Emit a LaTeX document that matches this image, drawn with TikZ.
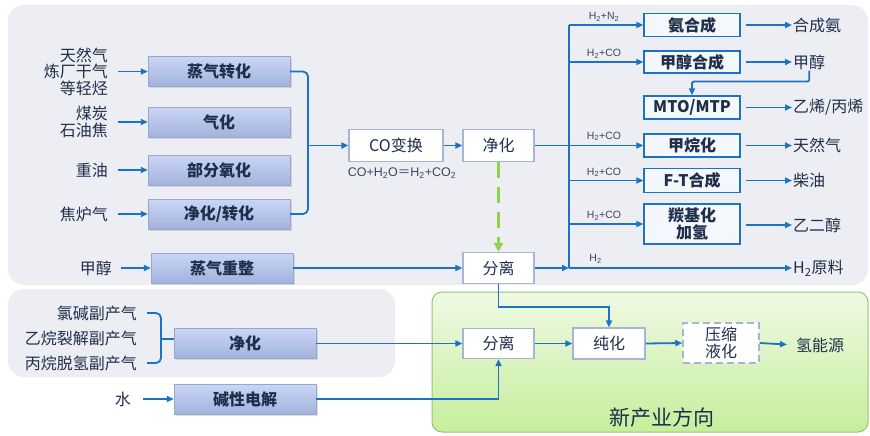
\documentclass[tikz,border=0pt]{standalone}
\usepackage{fontspec}
\setmainfont{Noto Sans CJK SC}
\newfontfamily\latf{Liberation Sans}
\usetikzlibrary{arrows.meta,shadows,calc}
\definecolor{bgray}{HTML}{EDEEF3}
\definecolor{lblue}{HTML}{1B72C6}
\definecolor{btop}{HTML}{CAD6F7}
\definecolor{bbot}{HTML}{A2B2DC}
\definecolor{bbrd}{HTML}{98A8CC}
\definecolor{txt}{HTML}{1F2E4A}
\definecolor{wbrd}{HTML}{A6B5D6}
\definecolor{rfill}{HTML}{F4F7FB}
\definecolor{gtop}{HTML}{EFF9E4}
\definecolor{gbot}{HTML}{C6EE9C}
\definecolor{gbrd}{HTML}{94C66A}
\definecolor{gdash}{HTML}{92D050}
\definecolor{smtxt}{HTML}{3A4660}
\newcommand\myss[1]{\textsubscript{#1}}
\begin{document}
\begin{tikzpicture}[x=1pt,y=-1pt,
  srcbox/.style={draw=bbrd, top color=btop, bottom color=bbot, minimum width=142pt, minimum height=30pt, inner sep=0pt,
     font=\fontsize{16}{18}\selectfont\bfseries, text=txt,
     drop shadow={opacity=0.25,shadow xshift=1.5pt,shadow yshift=-1.5pt}},
  wbox/.style={draw=wbrd, line width=1.2pt, fill=white, inner sep=0pt, font=\fontsize{16}{16.5}\selectfont, text=txt, align=center},
  rbox/.style={draw=lblue, line width=1.3pt, fill=rfill, minimum width=96pt, minimum height=23pt, inner sep=0pt,
     font=\fontsize{16}{17}\selectfont\bfseries, text=txt, align=center},
  lbl/.style={anchor=east, align=right, inner sep=0pt, font=\fontsize{16}{16.5}\selectfont, text=txt},
  outl/.style={anchor=west, inner sep=1pt, font=\fontsize{16}{17}\selectfont, text=txt},
  sm/.style={inner sep=0pt, font=\latf\fontsize{10.5}{12}\selectfont, text=smtxt},
  line/.style={draw=lblue, line width=1.8pt},
  arr/.style={line, -{Triangle[length=7pt,width=6pt]}}
]
\useasboundingbox (0,0) rectangle (870,436);
% backgrounds
\fill[bgray, rounded corners=16pt] (8,5) rectangle (868,285);
\fill[bgray, rounded corners=16pt] (8,289) rectangle (395,377);
\path[draw=gbrd, line width=1pt, top color=gtop, bottom color=gbot, rounded corners=10pt] (432,292) rectangle (868,432);
\node[font=\fontsize{21}{24}\selectfont, text=txt] (np) at (662,418) {新产业方向};

% left source boxes
\node[srcbox] (s1) at (219,71.5) {蒸气转化};
\node[srcbox] (s2) at (219,122) {气化};
\node[srcbox] (s3) at (219,170) {部分氧化};
\node[srcbox] (s4) at (219,214) {净化/转化};
\node[srcbox] (ref) at (222,268) {蒸气重整};
\node[srcbox] (pur2) at (245,343.5) {净化};
\node[srcbox] (elec) at (245,399) {碱性电解};

% input labels
\node[lbl] (l1) at (108,71.5) {天然气\\炼厂干气\\等轻烃};
\node[lbl] (l2) at (108,122) {煤炭\\石油焦};
\node[lbl] (l3) at (108,170) {重油};
\node[lbl] (l4) at (108,214) {焦炉气};
\node[lbl] (l5) at (112,268) {甲醇};
\node[lbl] (l6) at (137,313) {氯碱副产气};
\node[lbl] (l7) at (137,338) {乙烷裂解副产气};
\node[lbl] (l8) at (137,363) {丙烷脱氢副产气};
\node[lbl] (l9) at (131,399) {水};

\draw[arr] ([xshift=10pt]l1.east) -- (s1.west);
\draw[arr] ([xshift=10pt]l2.east) -- (s2.west);
\draw[arr] ([xshift=10pt]l3.east) -- (s3.west);
\draw[arr] ([xshift=10pt]l4.east) -- (s4.west);
\draw[arr] ([xshift=9pt]l5.east) -- (ref.west);
\draw[arr] ([xshift=12pt]l9.east) -- (elec.west);

% bottom bracket
\coordinate (bk) at (161,339);
\draw[line, rounded corners=5pt] ([xshift=10pt]l6.east) -| (bk) |- ([xshift=10pt]l8.east);
\draw[line] (bk) -- (bk -| pur2.west);

% middle boxes
\node[wbox, minimum width=94pt, minimum height=32pt] (co) at (396,145.5) {CO变换};
\node[wbox, minimum width=71pt, minimum height=32pt] (pur1) at (498.5,145.5) {净化};
\node[wbox, minimum width=71pt, minimum height=31pt] (sep1) at (498.5,268) {分离};
\node[wbox, minimum width=71pt, minimum height=30pt] (sep2) at (498.5,343.5) {分离};
\node[wbox, minimum width=72pt, minimum height=31pt] (pure) at (609,343.5) {纯化};
\node[wbox, dashed, dash pattern=on 7pt off 4pt, line width=1.5pt, minimum width=76pt, minimum height=40pt] (comp) at (721,343) {压缩\\液化};
\node[sm, font=\latf\fontsize{12.5}{14}\selectfont] (eq) at (402,173) {CO+H\myss{2}O{\rmfamily ＝}H\myss{2}+CO\myss{2}};

% top bracket
\coordinate (tk) at (308,145.5);
\draw[line, rounded corners=5pt] (s1.east) -| (tk) |- (s4.east);
\draw[arr] (tk) -- (co.west);
\draw[arr] (co.east) -- (pur1.west);

% green dashed
\draw[gdash, line width=2.4pt, dash pattern=on 16pt off 9pt, -{Triangle[length=9pt,width=9pt]}] (pur1.south) -- (sep1.north);

% right side boxes
\coordinate (busT) at (569,25);
\coordinate (busB) at (569,268);
\node[rbox] (nh3) at (692,25) {氨合成};
\node[rbox, minimum height=22pt] (mesyn) at (692,62) {甲醇合成};
\node[rbox] (mto) at (692,107.5) {MTO/MTP};
\node[rbox] (meth) at (692,145.5) {甲烷化};
\node[rbox, minimum height=24pt] (ft) at (692,180.5) {F-T合成};
\node[rbox, minimum height=40pt, font=\fontsize{16}{16.5}\selectfont\bfseries] (carb) at (692,224) {羰基化\\加氢};

\draw[line] (busT) -- (busB);
\draw[line] (pur1.east) -- (pur1.east -| busT);
\draw[arr] (busT |- nh3) -- (nh3.west);
\draw[arr] (busT |- mesyn) -- (mesyn.west);
\draw[arr] (busT |- meth) -- (meth.west);
\draw[arr] (busT |- ft) -- (ft.west);
\draw[arr] (busT |- carb) -- (carb.west);

\node[sm] (t1) at (604,17) {H\myss{2}+N\myss{2}};
\node[sm] (t2) at (604,54) {H\myss{2}+CO};
\node[sm] (t3) at (604,136.5) {H\myss{2}+CO};
\node[sm] (t4) at (604,172.5) {H\myss{2}+CO};
\node[sm] (t5) at (604,216) {H\myss{2}+CO};
\node[sm] (t6) at (595.5,259) {H\myss{2}};

% outputs
\node[outl] (o1) at (792,25) {合成氨};
\node[outl] (o2) at (792,62) {甲醇};
\node[outl] (o3) at (792,107.5) {乙烯/丙烯};
\node[outl] (o4) at (792,145.5) {天然气};
\node[outl] (o5) at (792,180.5) {柴油};
\node[outl] (o6) at (792,225) {乙二醇};
\node[outl] (o7) at (792,268) {H\myss{2}原料};
\node[outl] (o8) at (795,345) {氢能源};

\draw[arr, shorten <=5pt] (nh3.east) -- (o1.west);
\draw[arr, shorten <=5pt] (mesyn.east) -- (o2.west);
\draw[arr, shorten <=5pt] (mto.east) -- (o3.west);
\draw[arr, shorten <=5pt] (meth.east) -- (o4.west);
\draw[arr, shorten <=5pt] (ft.east) -- (o5.west);
\draw[arr, shorten <=5pt] (carb.east |- o6.west) -- (o6.west);
\draw[arr, rounded corners=2pt] (o2.south) -- ++(0,11) -| (mto.north);

% hydrogen flows
\draw[arr] (ref.east) -- (sep1.west);
\draw[arr] (sep1.east) -- (busB);
\draw[arr] (busB) -- (o7.west);
\draw[arr] (pur2.east) -- (sep2.west);
\draw[arr] (elec.east) -| (sep2.south);
\draw[arr] (sep1.south) -- ++(0,23) -| (pure.north);
\draw[arr] (sep2.east) -- (pure.west);
\draw[arr] (pure.east) -- (comp.west);
\draw[arr, shorten >=8pt] (comp.east) -- (o8.west);
\end{tikzpicture}
\end{document}
